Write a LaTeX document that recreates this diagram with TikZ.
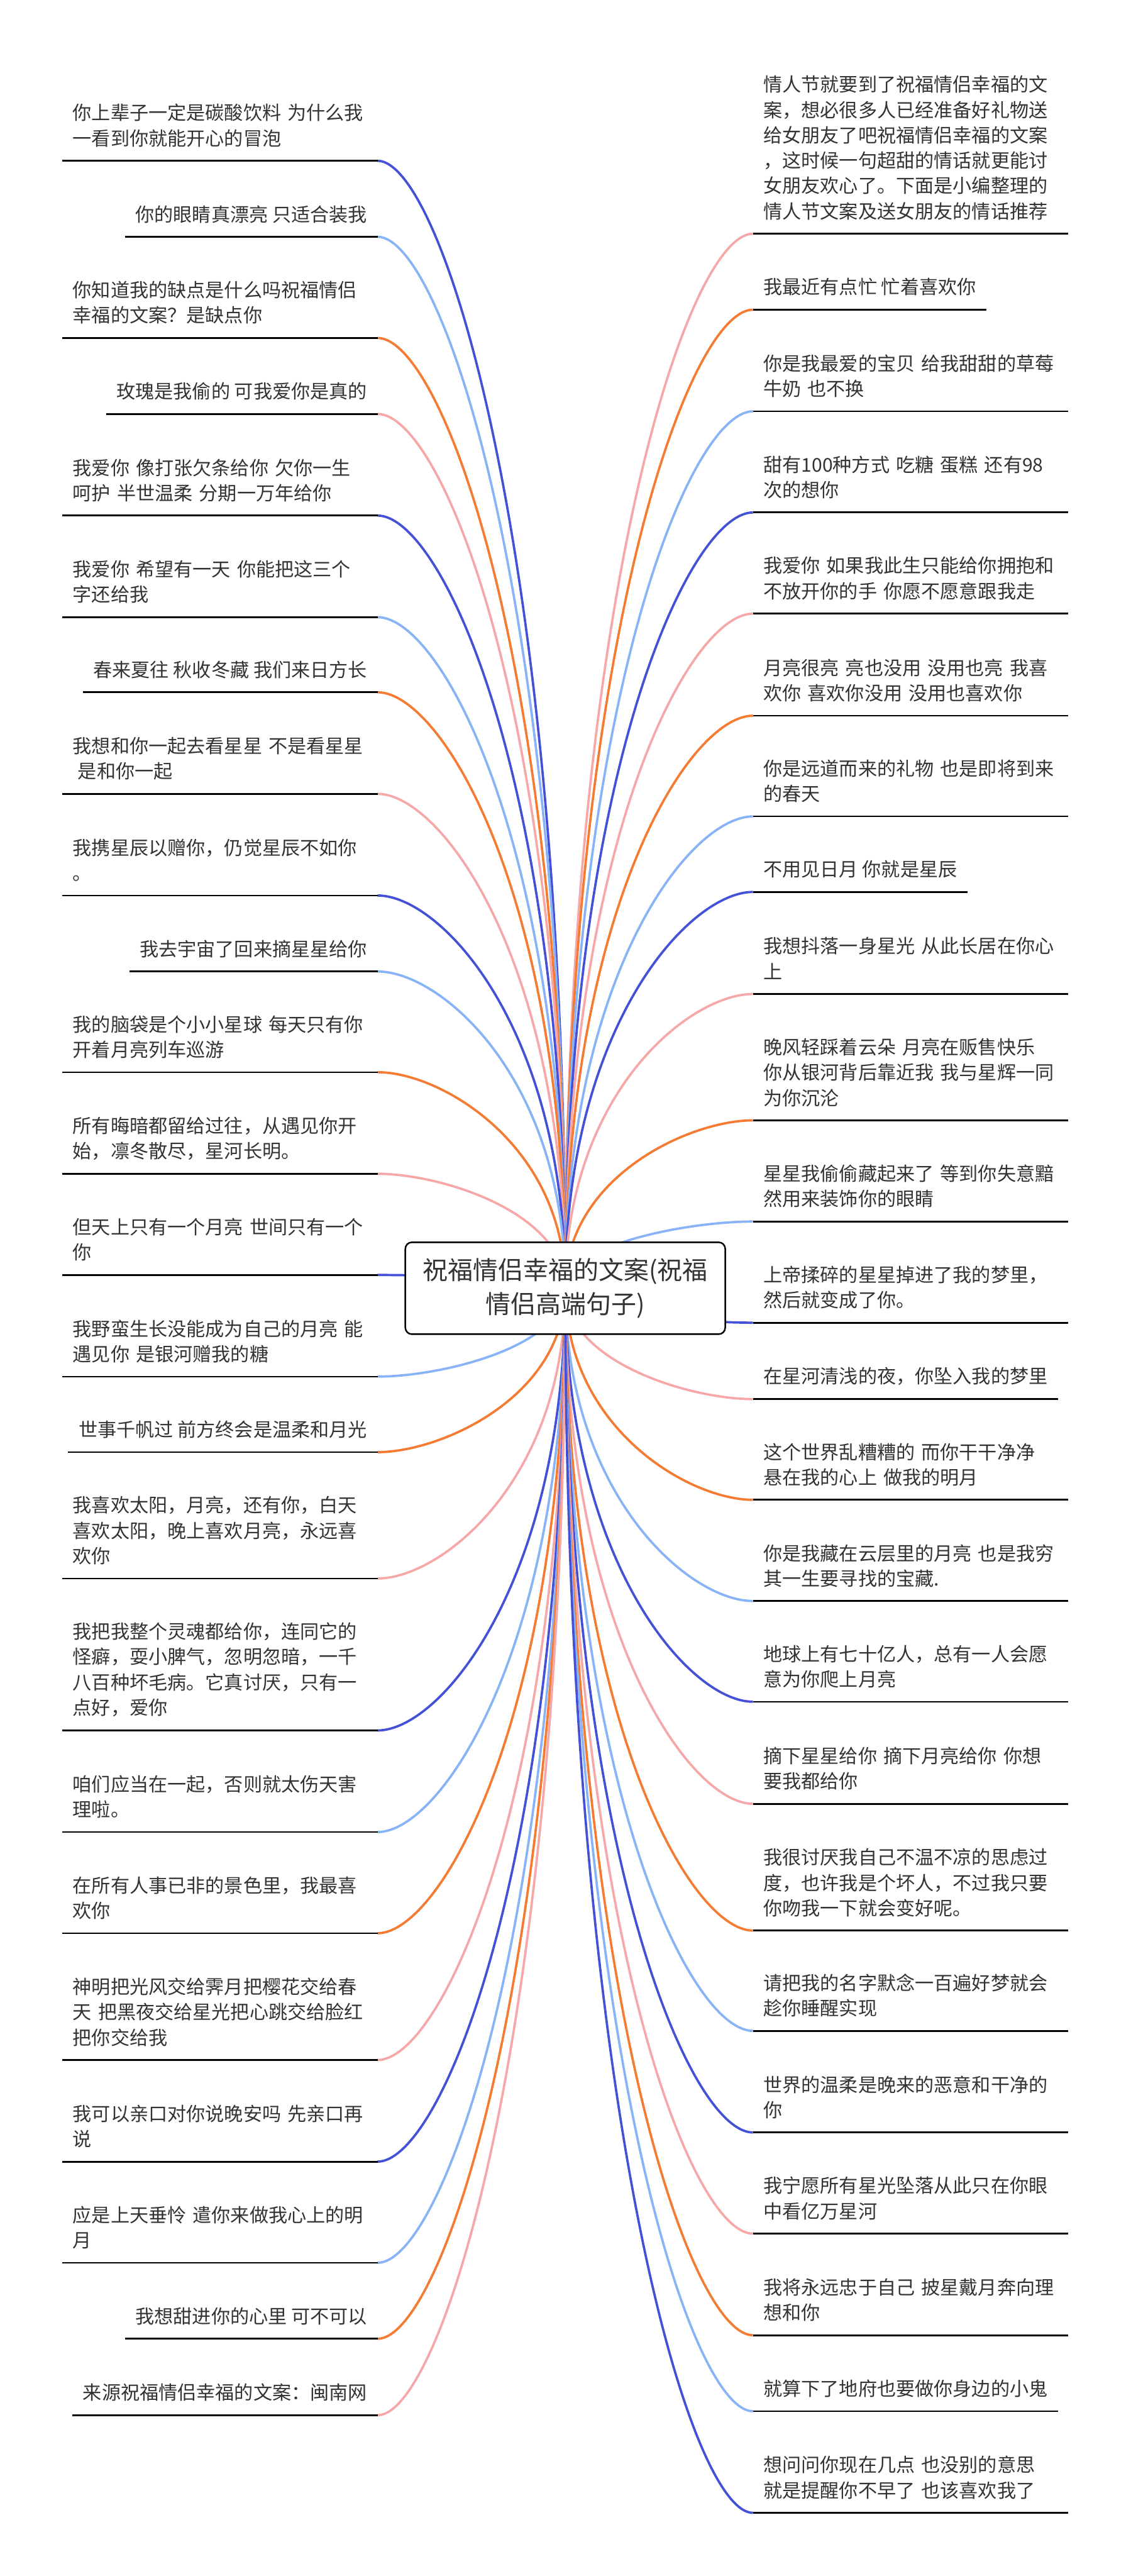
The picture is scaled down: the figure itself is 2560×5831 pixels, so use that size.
\documentclass[tikz,border=0pt]{standalone}
\usepackage{fontspec}
\setmainfont{Noto Sans CJK SC}
\usetikzlibrary{calc,backgrounds}
\definecolor{mmDark}{HTML}{4451D6}
\definecolor{mmLight}{HTML}{88B4F7}
\definecolor{mmOrange}{HTML}{F47B31}
\definecolor{mmPink}{HTML}{F6A8A8}
\definecolor{mmText}{HTML}{333333}

\begin{document}
\begin{tikzpicture}[
  x=0.01cm, y=-0.01cm,
  leaf/.style={
    font=\fontsize{12.2pt}{16.3pt}\selectfont,
    text=mmText,
    inner xsep=2.3mm,
    inner ysep=3.05mm,
    execute at end node={\vphantom{国}},
    append after command={
      (\tikzlastnode.south west) edge[draw=black,line width=1.1pt]
      (\tikzlastnode.south east)}
  },
  wide/.style={leaf,text width=6.66cm,align=left},
  lhs/.style={anchor=south east},
  rhs/.style={anchor=south west},
  hub/.style={
    draw=black,
    line width=1pt,
    rounded corners=1.5mm,
    fill=white,
    minimum width=7.24cm,
    minimum height=2.08cm,
    align=center,
    text=mmText,
    font=\fontsize{16.2pt}{21.6pt}\selectfont
  },
  branch/.style={
    line width=1.5pt,
    to path={.. controls ($(\tikztostart)!.66!(\tikztostart|-\tikztotarget)$)
      and ($(\tikztotarget)!.34!(\tikztotarget-|\tikztostart)$) .. (\tikztotarget)}
  }
]
  \useasboundingbox (0,0) rectangle (2560,5831);
  \begin{scope}[on background layer]
    \fill[white] (0,0) rectangle (2560,5831);
  \end{scope}

  \node[hub] (root) at (1280,2916) {祝福情侣幸福的文案(祝福\\情侣高端句子)};

  % left side
  \node[wide,lhs] (l1) at (855,364) {你上辈子一定是碳酸饮料 为什么我\\一看到你就能开心的冒泡};
  \node[leaf,lhs] (l2) at (855,536) {你的眼睛真漂亮 只适合装我};
  \node[wide,lhs] (l3) at (855,765) {你知道我的缺点是什么吗祝福情侣\\幸福的文案？是缺点你};
  \node[leaf,lhs] (l4) at (855,937) {玫瑰是我偷的 可我爱你是真的};
  \node[wide,lhs] (l5) at (855,1167) {我爱你 像打张欠条给你 欠你一生\\呵护 半世温柔 分期一万年给你};
  \node[wide,lhs] (l6) at (855,1397) {我爱你 希望有一天 你能把这三个\\字还给我};
  \node[leaf,lhs] (l7) at (855,1567) {春来夏往 秋收冬藏 我们来日方长};
  \node[wide,lhs] (l8) at (855,1797) {我想和你一起去看星星 不是看星星\\\hspace*{0.27em}是和你一起};
  \node[wide,lhs] (l9) at (855,2027) {我携星辰以赠你，仍觉星辰不如你\\。};
  \node[leaf,lhs] (l10) at (855,2199) {我去宇宙了回来摘星星给你};
  \node[wide,lhs] (l11) at (855,2427) {我的脑袋是个小小星球 每天只有你\\开着月亮列车巡游};
  \node[wide,lhs] (l12) at (855,2657) {所有晦暗都留给过往，从遇见你开\\始，凛冬散尽，星河长明。};
  \node[wide,lhs] (l13) at (855,2886) {但天上只有一个月亮 世间只有一个\\你};
  \node[wide,lhs] (l14) at (855,3116) {我野蛮生长没能成为自己的月亮 能\\遇见你 是银河赠我的糖};
  \node[leaf,lhs] (l15) at (855,3287) {世事千帆过 前方终会是温柔和月光};
  \node[wide,lhs] (l16) at (855,3573) {我喜欢太阳，月亮，还有你，白天\\喜欢太阳，晚上喜欢月亮，永远喜\\欢你};
  \node[wide,lhs] (l17) at (855,3917) {我把我整个灵魂都给你，连同它的\\怪癖，耍小脾气，忽明忽暗，一千\\八百种坏毛病。它真讨厌，只有一\\点好，爱你};
  \node[wide,lhs] (l18) at (855,4147) {咱们应当在一起，否则就太伤天害\\理啦。};
  \node[wide,lhs] (l19) at (855,4376) {在所有人事已非的景色里，我最喜\\欢你};
  \node[wide,lhs] (l20) at (855,4663) {神明把光风交给霁月把樱花交给春\\天 把黑夜交给星光把心跳交给脸红\\把你交给我};
  \node[wide,lhs] (l21) at (855,4893) {我可以亲口对你说晚安吗 先亲口再\\说};
  \node[wide,lhs] (l22) at (855,5122) {应是上天垂怜 遣你来做我心上的明\\月};
  \node[leaf,lhs] (l23) at (855,5294) {我想甜进你的心里 可不可以};
  \node[leaf,lhs] (l24) at (855,5467) {来源祝福情侣幸福的文案：闽南网};

  % right side
  \node[wide,rhs] (r1) at (1705,529) {情人节就要到了祝福情侣幸福的文\\案，想必很多人已经准备好礼物送\\给女朋友了吧祝福情侣幸福的文案\\，这时候一句超甜的情话就更能讨\\女朋友欢心了。下面是小编整理的\\情人节文案及送女朋友的情话推荐};
  \node[leaf,rhs] (r2) at (1705,701) {我最近有点忙 忙着喜欢你};
  \node[wide,rhs] (r3) at (1705,931) {你是我最爱的宝贝 给我甜甜的草莓\\牛奶 也不换};
  \node[wide,rhs] (r4) at (1705,1160) {甜有100种方式 吃糖 蛋糕 还有98\\次的想你};
  \node[wide,rhs] (r5) at (1705,1389) {我爱你 如果我此生只能给你拥抱和\\不放开你的手 你愿不愿意跟我走};
  \node[wide,rhs] (r6) at (1705,1620) {月亮很亮 亮也没用 没用也亮 我喜\\欢你 喜欢你没用 没用也喜欢你};
  \node[wide,rhs] (r7) at (1705,1848) {你是远道而来的礼物 也是即将到来\\的春天};
  \node[leaf,rhs] (r8) at (1705,2019) {不用见日月 你就是星辰};
  \node[wide,rhs] (r9) at (1705,2250) {我想抖落一身星光 从此长居在你心\\上};
  \node[wide,rhs] (r10) at (1705,2536) {晚风轻踩着云朵 月亮在贩售快乐\\你从银河背后靠近我 我与星辉一同\\为你沉沦};
  \node[wide,rhs] (r11) at (1705,2765) {星星我偷偷藏起来了 等到你失意黯\\然用来装饰你的眼睛};
  \node[wide,rhs] (r12) at (1705,2994) {上帝揉碎的星星掉进了我的梦里，\\然后就变成了你。};
  \node[leaf,rhs] (r13) at (1705,3167) {在星河清浅的夜，你坠入我的梦里};
  \node[wide,rhs] (r14) at (1705,3395) {这个世界乱糟糟的 而你干干净净\\悬在我的心上 做我的明月};
  \node[wide,rhs] (r15) at (1705,3624) {你是我藏在云层里的月亮 也是我穷\\其一生要寻找的宝藏.};
  \node[wide,rhs] (r16) at (1705,3852) {地球上有七十亿人，总有一人会愿\\意为你爬上月亮};
  \node[wide,rhs] (r17) at (1705,4083) {摘下星星给你 摘下月亮给你 你想\\要我都给你};
  \node[wide,rhs] (r18) at (1705,4370) {我很讨厌我自己不温不凉的思虑过\\度，也许我是个坏人，不过我只要\\你吻我一下就会变好呢。};
  \node[wide,rhs] (r19) at (1705,4597) {请把我的名字默念一百遍好梦就会\\趁你睡醒实现};
  \node[wide,rhs] (r20) at (1705,4827) {世界的温柔是晚来的恶意和干净的\\你};
  \node[wide,rhs] (r21) at (1705,5056) {我宁愿所有星光坠落从此只在你眼\\中看亿万星河};
  \node[wide,rhs] (r22) at (1705,5286) {我将永远忠于自己 披星戴月奔向理\\想和你};
  \node[leaf,rhs] (r23) at (1705,5458) {就算下了地府也要做你身边的小鬼};
  \node[wide,rhs] (r24) at (1705,5688) {想问问你现在几点 也没别的意思\\就是提醒你不早了 也该喜欢我了};

  \begin{scope}[on background layer]
    % left branches
    \draw[branch,mmDark] (root.center) to (l1.south east);
    \draw[branch,mmLight] (root.center) to (l2.south east);
    \draw[branch,mmOrange] (root.center) to (l3.south east);
    \draw[branch,mmPink] (root.center) to (l4.south east);
    \draw[branch,mmDark] (root.center) to (l5.south east);
    \draw[branch,mmLight] (root.center) to (l6.south east);
    \draw[branch,mmOrange] (root.center) to (l7.south east);
    \draw[branch,mmPink] (root.center) to (l8.south east);
    \draw[branch,mmDark] (root.center) to (l9.south east);
    \draw[branch,mmLight] (root.center) to (l10.south east);
    \draw[branch,mmOrange] (root.center) to (l11.south east);
    \draw[branch,mmPink] (root.center) to (l12.south east);
    \draw[branch,mmDark] (root.center) to (l13.south east);
    \draw[branch,mmLight] (root.center) to (l14.south east);
    \draw[branch,mmOrange] (root.center) to (l15.south east);
    \draw[branch,mmPink] (root.center) to (l16.south east);
    \draw[branch,mmDark] (root.center) to (l17.south east);
    \draw[branch,mmLight] (root.center) to (l18.south east);
    \draw[branch,mmOrange] (root.center) to (l19.south east);
    \draw[branch,mmPink] (root.center) to (l20.south east);
    \draw[branch,mmDark] (root.center) to (l21.south east);
    \draw[branch,mmLight] (root.center) to (l22.south east);
    \draw[branch,mmOrange] (root.center) to (l23.south east);
    \draw[branch,mmPink] (root.center) to (l24.south east);
    % right branches
    \draw[branch,mmPink] (root.center) to (r1.south west);
    \draw[branch,mmOrange] (root.center) to (r2.south west);
    \draw[branch,mmLight] (root.center) to (r3.south west);
    \draw[branch,mmDark] (root.center) to (r4.south west);
    \draw[branch,mmPink] (root.center) to (r5.south west);
    \draw[branch,mmOrange] (root.center) to (r6.south west);
    \draw[branch,mmLight] (root.center) to (r7.south west);
    \draw[branch,mmDark] (root.center) to (r8.south west);
    \draw[branch,mmPink] (root.center) to (r9.south west);
    \draw[branch,mmOrange] (root.center) to (r10.south west);
    \draw[branch,mmLight] (root.center) to (r11.south west);
    \draw[branch,mmDark] (root.center) to (r12.south west);
    \draw[branch,mmPink] (root.center) to (r13.south west);
    \draw[branch,mmOrange] (root.center) to (r14.south west);
    \draw[branch,mmLight] (root.center) to (r15.south west);
    \draw[branch,mmDark] (root.center) to (r16.south west);
    \draw[branch,mmPink] (root.center) to (r17.south west);
    \draw[branch,mmOrange] (root.center) to (r18.south west);
    \draw[branch,mmLight] (root.center) to (r19.south west);
    \draw[branch,mmDark] (root.center) to (r20.south west);
    \draw[branch,mmPink] (root.center) to (r21.south west);
    \draw[branch,mmOrange] (root.center) to (r22.south west);
    \draw[branch,mmLight] (root.center) to (r23.south west);
    \draw[branch,mmDark] (root.center) to (r24.south west);
  \end{scope}
\end{tikzpicture}
\end{document}
